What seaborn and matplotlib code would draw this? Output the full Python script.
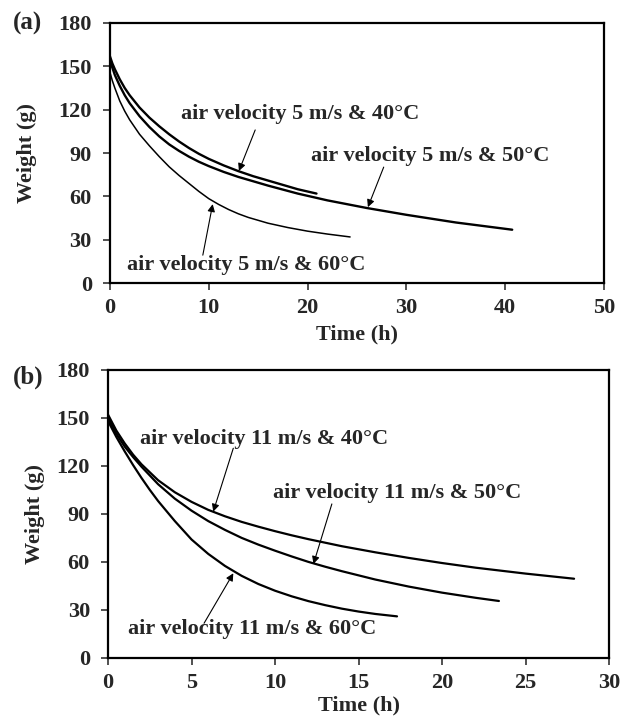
import matplotlib
matplotlib.use("Agg")
import matplotlib.pyplot as plt
import numpy as np
import pandas as pd
import seaborn as sns

# (a) air velocity 5 m/s
a_t40 = [0, 0.25, 0.5, 1, 1.5, 2, 3, 4, 5, 6, 7, 8, 9, 10, 11.5, 13, 14.5, 16, 17.5, 19, 20.9]
a_w40 = [157, 152, 148, 141, 135, 130, 121.5, 114.5, 108.5, 103, 98, 93.5, 89.5, 86, 81.5,
         77.5, 74, 71, 68, 65, 62]
a_t50 = [0, 0.25, 0.5, 1, 1.5, 2, 3, 4, 5, 6, 7, 8, 9, 10, 11.5, 13, 14.5, 16, 19, 22, 26,
         30, 35, 40.7]
a_w50 = [154, 149, 144, 136.5, 130, 124.5, 115.5, 108, 101.5, 96, 91.5, 87.5, 84, 81, 77,
         73.5, 70.5, 67.5, 62, 57.3, 52, 47.3, 42, 37]
a_t60 = [0, 0.25, 0.5, 1, 1.5, 2, 3, 4, 5, 6, 7, 8, 9, 10, 11, 12, 13, 14, 16, 18, 20, 22, 24.3]
a_w60 = [146, 140, 135, 126, 119, 113, 103, 95, 87.5, 80.5, 74.5, 69, 63.5, 58.5, 54.5, 51,
         48, 45.5, 41.5, 38.5, 36, 34, 32]

# (b) air velocity 11 m/s
b_t40 = [0, 0.5, 1, 1.5, 2, 3, 4, 5, 6, 7, 8, 9, 10, 11, 12, 14, 16, 18, 20, 22, 25, 27.9]
b_w40 = [152, 142, 134, 127, 121, 111, 103.5, 97.5, 92.5, 88.5, 85, 82, 79.2, 76.6, 74.2,
         69.8, 66, 62.5, 59.3, 56.4, 52.7, 49.5]
b_t50 = [0, 0.5, 1, 1.5, 2, 3, 4, 5, 6, 7, 8, 9, 10, 11, 12, 13, 14, 16, 18, 20, 22, 23.4]
b_w50 = [150, 140, 132, 125.5, 119.5, 108.5, 99.5, 92, 85.5, 80, 75, 70.8, 67, 63.4, 60, 57,
         54.2, 49, 44.6, 40.8, 37.6, 35.6]
b_t60 = [0, 0.5, 1, 1.5, 2, 2.5, 3, 4, 5, 6, 7, 8, 9, 10, 11, 12, 13, 14, 15, 16, 17.3]
b_w60 = [148, 138, 129, 120.5, 112.5, 105, 98, 85.5, 74, 65, 57.5, 51.3, 46.2, 42, 38.5,
         35.5, 33, 30.8, 29, 27.5, 26]

# labels: text, text position (t, w), arrow tail, arrow tip
a_labels = [
    ("air velocity 5 m/s & 40\u00b0C", (19.2, 117), (14.7, 106), (13.05, 77.6)),
    ("air velocity 5 m/s & 50\u00b0C", (32.4, 88), (27.7, 80.3), (26.1, 52.6)),
    ("air velocity 5 m/s & 60\u00b0C", (13.8, 12.5), (9.4, 19.4), (10.4, 54.7)),
]
b_labels = [
    ("air velocity 11 m/s & 40\u00b0C", (9.37, 136.9), (7.5, 131), (6.3, 91.4)),
    ("air velocity 11 m/s & 50\u00b0C", (17.3, 103.3), (13.4, 96.2), (12.3, 58.75)),
    ("air velocity 11 m/s & 60\u00b0C", (8.6, 18.1), (5.75, 21.7), (7.5, 52.9)),
]

sns.set_theme(style="ticks")
plt.rcParams["font.family"] = ["Liberation Serif", "DejaVu Serif"]
plt.rcParams["font.weight"] = "bold"
plt.rcParams["axes.labelweight"] = "bold"


def draw_panel(ax, curves, labels, xmax, xstep, xlab_y, ylab_x):
    for t, w, lw in curves:
        df = pd.DataFrame({"t": t, "w": w})
        sns.lineplot(data=df, x="t", y="w", ax=ax, color="black", lw=lw,
                     sort=False, estimator=None)
    for text, pos, tail, tip in labels:
        ax.text(pos[0], pos[1], text, ha="center", va="center", fontsize=16,
                fontweight="bold")
        ax.annotate("", xy=tip, xytext=tail,
                    arrowprops=dict(arrowstyle="-|>", color="black", lw=0.8,
                                    mutation_scale=11, shrinkA=0, shrinkB=0))
    ax.set_xlim(0, xmax)
    ax.set_ylim(0, 180)
    ax.set_xticks(np.arange(0, xmax + 1, xstep))
    ax.set_yticks(np.arange(0, 181, 30))
    ax.tick_params(direction="out", length=5, width=1.2, labelsize=16,
                   color="#333333")
    ax.tick_params(axis="x", pad=6)
    ax.tick_params(axis="y", pad=8)
    for lab in ax.get_xticklabels() + ax.get_yticklabels():
        lab.set_fontweight("bold")
    for s in ax.spines.values():
        s.set_linewidth(1.6)
        s.set_color("black")
    ax.set_xlabel("Time (h)", fontsize=16, fontweight="bold")
    ax.set_ylabel("Weight (g)", fontsize=16, fontweight="bold")
    ax.xaxis.set_label_coords(0.5, xlab_y)
    ax.yaxis.set_label_coords(ylab_x, 0.5)


fig = plt.figure(figsize=(6.28, 7.17), dpi=100)
ax1 = fig.add_axes([0.175, 0.605, 0.787, 0.363])
ax2 = fig.add_axes([0.172, 0.0823, 0.798, 0.402])

draw_panel(ax1, [(a_t40, a_w40, 1.7), (a_t50, a_w50, 1.7), (a_t60, a_w60, 1.1)],
           a_labels, 50, 10, -0.16, -0.148)
draw_panel(ax2, [(b_t40, b_w40, 1.6), (b_t50, b_w50, 1.6), (b_t60, b_w60, 1.6)],
           b_labels, 30, 5, -0.13, -0.126)

fig.text(28 / 628, 1 - 23 / 717, "(a)", fontsize=18, fontweight="bold",
         ha="center", va="center")
fig.text(28 / 628, 1 - 377 / 717, "(b)", fontsize=18, fontweight="bold",
         ha="center", va="center")

fig.savefig("out.png", dpi=100)
